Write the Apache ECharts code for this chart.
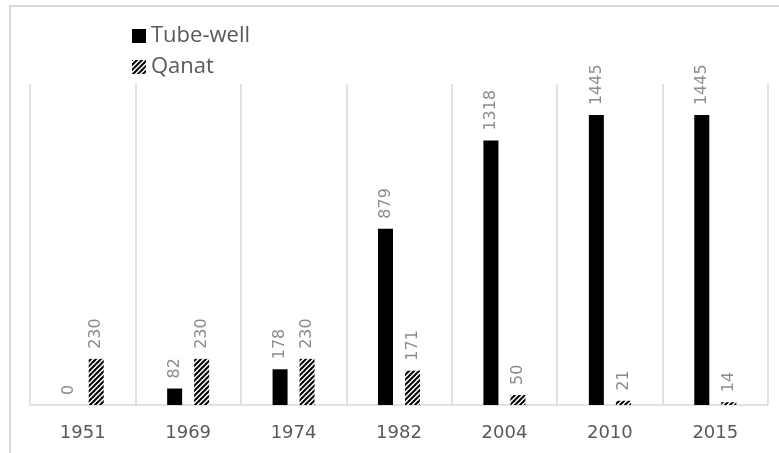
<!DOCTYPE html>
<html>
<head>
<meta charset="utf-8">
<script src="https://cdn.jsdelivr.net/npm/echarts@6/dist/echarts.min.js"></script>
<style>
  html, body { margin: 0; padding: 0; background: #fff; }
  #chart { width: 779px; height: 453px; }
</style>
</head>
<body>
<div id="chart"></div>
<script>
// data
const years = ['1951', '1969', '1974', '1982', '2004', '2010', '2015'];
const tubeWell = [0, 82, 178, 879, 1318, 1445, 1445];
const qanat = [230, 230, 230, 171, 50, 21, 14];

// diagonal hatch for the Qanat bars
const makeHatch = () => {
  const c = document.createElement('canvas');
  c.width = 5;
  c.height = 5;
  const ctx = c.getContext('2d');
  ctx.fillStyle = '#fff';
  ctx.fillRect(0, 0, 5, 5);
  ctx.strokeStyle = '#000';
  ctx.lineWidth = 2;
  ctx.beginPath();
  ctx.moveTo(0, 5); ctx.lineTo(5, 0);
  ctx.moveTo(-2.5, 2.5); ctx.lineTo(2.5, -2.5);
  ctx.moveTo(2.5, 7.5); ctx.lineTo(7.5, 2.5);
  ctx.stroke();
  return c;
};
const hatch = { image: makeHatch(), repeat: 'repeat' };

const valueLabel = {
  show: true,
  position: 'top',
  rotate: 90,
  align: 'left',
  verticalAlign: 'middle',
  distance: 10,
  color: '#8c8c8c',
  fontSize: 16,
  fontFamily: 'DejaVu Sans'
};

const chart = echarts.init(document.getElementById('chart'));
chart.setOption({
  animation: false,
  graphic: [{
    type: 'rect',
    shape: { x: 10, y: 6, width: 820, height: 520 },
    style: { fill: 'none', stroke: '#d9d9d9', lineWidth: 2 },
    silent: true
  }],
  legend: {
    orient: 'vertical',
    left: 127,
    top: 20,
    itemWidth: 14,
    itemHeight: 14,
    itemGap: 9,
    icon: 'rect',
    textStyle: { fontSize: 22, color: '#595959', fontFamily: 'Open Sans', lineHeight: 22 },
    data: ['Tube-well', 'Qanat']
  },
  grid: { left: 30, right: 11, top: 84, bottom: 48, containLabel: false },
  xAxis: {
    type: 'category',
    data: years,
    axisLine: { lineStyle: { color: '#d9d9d9', width: 1.5 } },
    axisTick: { show: false },
    splitLine: { show: true, interval: 0, lineStyle: { color: '#d9d9d9', width: 1.5 } },
    axisLabel: { color: '#595959', fontSize: 18, fontFamily: 'DejaVu Sans', margin: 19 }
  },
  yAxis: {
    type: 'value',
    min: 0,
    max: 1600,
    show: false,
    splitLine: { show: false }
  },
  series: [
    {
      name: 'Tube-well',
      type: 'bar',
      data: tubeWell,
      barWidth: 15,
      barGap: '80%',
      itemStyle: { color: '#000' },
      label: valueLabel
    },
    {
      name: 'Qanat',
      type: 'bar',
      data: qanat,
      barWidth: 15,
      barGap: '80%',
      itemStyle: { color: hatch },
      label: valueLabel
    }
  ]
});
</script>
</body>
</html>
